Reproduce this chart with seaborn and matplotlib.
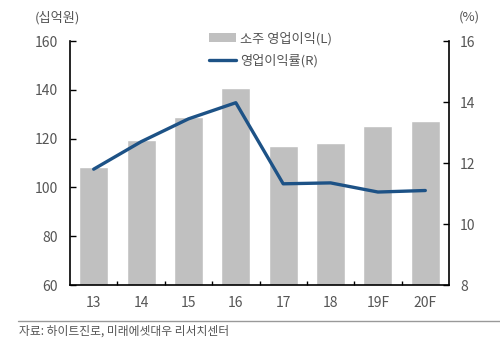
import matplotlib
matplotlib.use('Agg')
import matplotlib.pyplot as plt
import seaborn as sns
import pandas as pd
from matplotlib.patches import Patch
from matplotlib.lines import Line2D

# data
years = ['13', '14', '15', '16', '17', '18', '19F', '20F']
op_profit = [108.2, 119.6, 129.0, 140.8, 117.1, 118.2, 125.3, 127.2]   # 십억원 (L)
op_margin = [11.8, 12.7, 13.45, 13.98, 11.32, 11.35, 11.05, 11.1]      # % (R)

bar_label = '소주 영업이익(L)'
line_label = '영업이익률(R)'
source = '자료: 하이트진로, 미래에셋대우 리서치센터'

sns.set_style('white')
plt.rcParams['font.family'] = ['Noto Sans CJK KR', 'DejaVu Sans']

txt = '#555555'
bar_c = '#c0c0c0'
line_c = '#1d5286'

df = pd.DataFrame({'year': years, 'profit': op_profit, 'margin': op_margin})

fig = plt.figure(figsize=(5, 3.64), dpi=100)
ax = fig.add_axes([0.14, 0.217, 0.758, 0.67])

sns.barplot(data=df, x='year', y='profit', color=bar_c, width=0.61,
            saturation=1, ax=ax)
ax.set_ylim(60, 160)
ax.set_yticks([60, 80, 100, 120, 140, 160])
ax.set_xlim(-0.5, len(years) - 0.5)
ax.set_xlabel('')
ax.set_ylabel('')

ax2 = ax.twinx()
sns.lineplot(data=df, x='year', y='margin', color=line_c, linewidth=2.4,
             ax=ax2, sort=False)
ax2.set_ylim(8, 16)
ax2.set_yticks([8, 10, 12, 14, 16])
ax2.set_ylabel('')
ax2.set_xlim(-0.5, len(years) - 0.5)

for a in (ax, ax2):
    for s in a.spines.values():
        s.set_color('black')
        s.set_linewidth(1.2)
    a.spines['top'].set_visible(False)
    a.tick_params(labelsize=10, colors=txt, length=4, width=1, direction='in')

ax.spines['right'].set_visible(False)
ax2.spines['left'].set_visible(False)
ax2.spines['bottom'].set_visible(False)
ax.tick_params(axis='y', left=True, color='black', labelcolor=txt, pad=9)
ax2.tick_params(axis='y', right=True, color='black', labelcolor=txt, pad=8)
ax.tick_params(axis='x', length=0, pad=8)
ax.set_xticks([i + 0.5 for i in range(len(years) - 1)], minor=True)
ax.tick_params(axis='x', which='minor', bottom=True, length=3, width=1,
               direction='in', color='black')

ax.set_zorder(ax2.get_zorder() - 1)
ax2.patch.set_visible(False)

handles = [Patch(facecolor=bar_c, edgecolor='none'),
           Line2D([], [], color=line_c, linewidth=2.4)]
fig.legend(handles, [bar_label, line_label], loc='upper left',
           bbox_to_anchor=(0.395, 0.945), frameon=False, fontsize=9.5,
           labelcolor=txt, handlelength=2.0, handletextpad=0.3,
           labelspacing=0.65)

fig.text(0.07, 0.952, '(십억원)', fontsize=9.5, color=txt, va='center')
fig.text(0.918, 0.952, '(%)', fontsize=9.5, color=txt, va='center')

fig.add_artist(Line2D([0.036, 1.0], [0.118, 0.118], color='#999999', linewidth=1))
fig.text(0.038, 0.09, source, fontsize=8.5, color=txt, va='center')

fig.savefig('out.png', dpi=100)
